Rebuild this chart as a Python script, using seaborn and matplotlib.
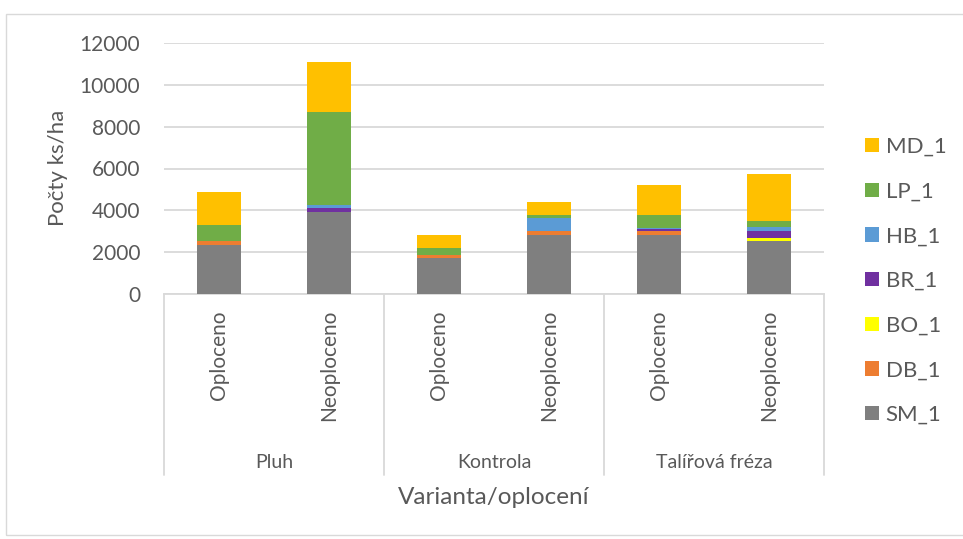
import numpy as np
import pandas as pd
import seaborn as sns
import matplotlib
matplotlib.use("Agg")
import matplotlib.pyplot as plt
from matplotlib.patches import Patch, Rectangle
from matplotlib.lines import Line2D

# Data: seedling counts per hectare by variant and fencing
groups = ["Pluh", "Kontrola", "Talířová fréza"]
fencing = ["Oploceno", "Neoploceno"]
categories = ["Pluh|Oploceno", "Pluh|Neoploceno",
              "Kontrola|Oploceno", "Kontrola|Neoploceno",
              "Talířová fréza|Oploceno", "Talířová fréza|Neoploceno"]

SM_1 = [2350, 3930, 1720, 2830, 2810, 2520]
DB_1 = [190, 0, 160, 160, 190, 20]
BO_1 = [0, 0, 0, 0, 0, 140]
BR_1 = [0, 160, 0, 0, 130, 340]
HB_1 = [0, 180, 0, 660, 40, 160]
LP_1 = [780, 4430, 300, 140, 630, 300]
MD_1 = [1580, 2380, 660, 620, 1420, 2240]

series_names = ["SM_1", "DB_1", "BO_1", "BR_1", "HB_1", "LP_1", "MD_1"]
series_values = [SM_1, DB_1, BO_1, BR_1, HB_1, LP_1, MD_1]
series_colors = ["#7F7F7F", "#ED7D31", "#FFFF00", "#7030A0", "#5B9BD5", "#70AD47", "#FFC000"]

df = pd.DataFrame(dict(zip(series_names, series_values)), index=categories)
cum = df.cumsum(axis=1)

sns.set_theme(style="white")
plt.rcParams["font.family"] = ["Lato", "DejaVu Sans"]
text_color = "#595959"

fig = plt.figure(figsize=(9.63, 5.39), dpi=100)
W, H = 963, 539
ax = fig.add_axes([164 / W, (H - 294) / H, 660 / W, 251 / H])

# stacked bars: draw cumulative totals from the top layer down
for name, color in reversed(list(zip(series_names, series_colors))):
    sns.barplot(x=categories, y=cum[name].values, color=color, width=0.4,
                saturation=1, ax=ax, zorder=3, linewidth=0)

ax.set_ylim(0, 12000)
ax.set_xlim(-0.5, 5.5)
ax.set_yticks(np.arange(0, 12001, 2000))
ax.set_yticklabels([str(v) for v in range(0, 12001, 2000)], fontsize=15, color=text_color)
ax.tick_params(axis="y", length=0, pad=17)
ax.yaxis.grid(True, color="#D9D9D9", linewidth=1.3, zorder=0)
ax.set_axisbelow(True)
for s in ["top", "right", "left"]:
    ax.spines[s].set_visible(False)
ax.spines["bottom"].set_color("#D9D9D9")
ax.spines["bottom"].set_linewidth(1.3)
ax.set_xticks(range(6))
ax.set_xticklabels([])
ax.tick_params(axis="x", length=0)
ax.set_xlabel("")
ax.set_ylabel("")
fig.text(58 / W, 1 - 168 / H, "Počty ks/ha", rotation=90, ha="center", va="center",
         fontsize=16, color=text_color)

# two-level category axis
trans = ax.get_xaxis_transform()
for i, cat in enumerate(categories):
    ax.text(i, -(310 - 294) / 251, cat.split("|")[1], rotation=90, ha="center", va="top",
            fontsize=15, color=text_color, transform=trans, clip_on=False)
sep_bottom = -(475 - 294) / 251
for xpos in [-0.5, 1.5, 3.5, 5.5]:
    ax.add_line(Line2D([xpos, xpos], [0, sep_bottom], transform=trans,
                       color="#D9D9D9", linewidth=1.3, clip_on=False))
for gi, g in enumerate(groups):
    ax.text(2 * gi + 0.5, -(462 - 294) / 251, g, ha="center", va="center",
            fontsize=14, color=text_color, transform=trans, clip_on=False)
ax.text(2.5, -(497 - 294) / 251, "Varianta/oplocení", ha="center", va="center",
        fontsize=17.5, color=text_color, transform=trans, clip_on=False)

# legend, top layer first
handles = [Patch(facecolor=c, edgecolor="none") for c in reversed(series_colors)]
leg = fig.legend(handles, list(reversed(series_names)), loc="upper left",
                 bbox_to_anchor=(865 / W, 1 - 137 / H), frameon=False,
                 borderpad=0, borderaxespad=0,
                 fontsize=16, labelcolor=text_color, handlelength=0.63,
                 handleheight=0.63, handletextpad=0.3, labelspacing=1.11)

# chart area border
fig.patches.append(Rectangle((6 / W, 4 / H), 1.2, (H - 14 - 4) / H,
                             transform=fig.transFigure, fill=False,
                             edgecolor="#D9D9D9", linewidth=1))

fig.savefig("out.png", dpi=100)
